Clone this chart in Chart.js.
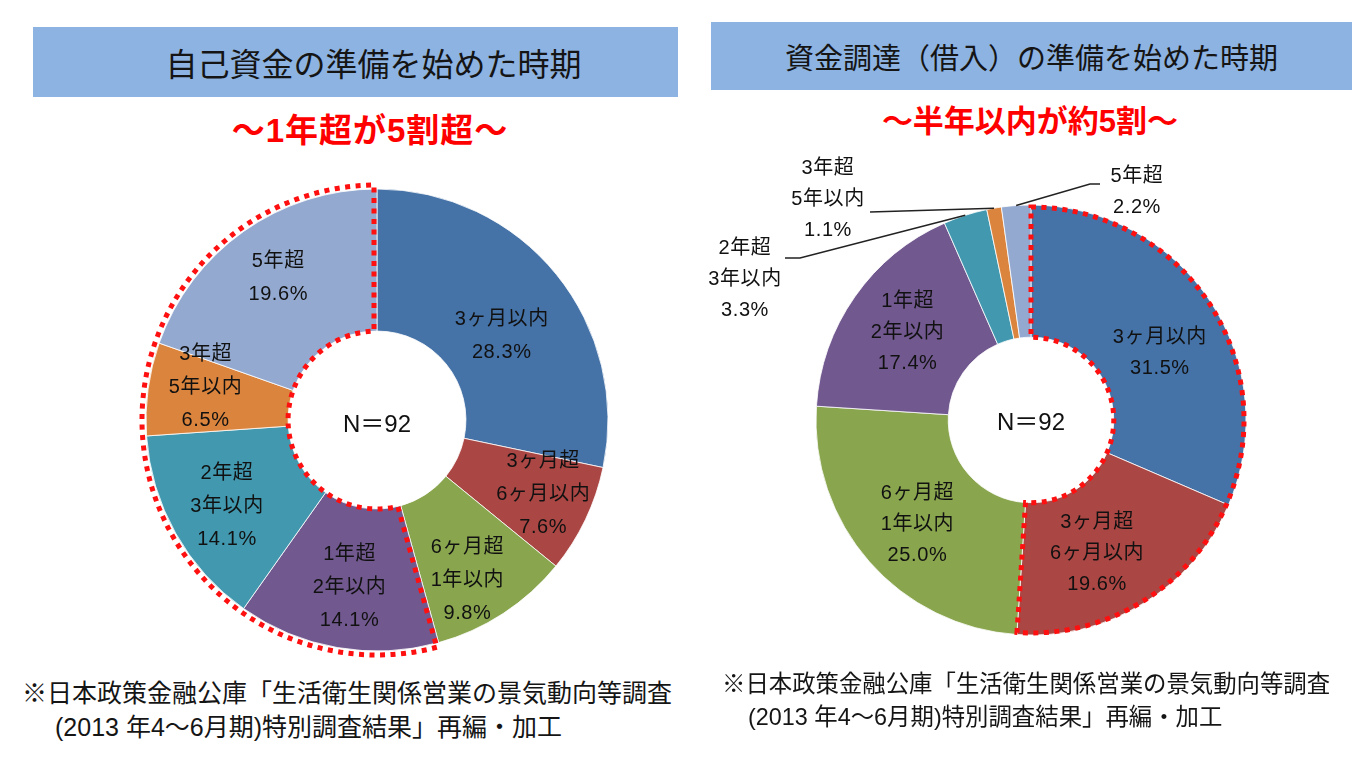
<!DOCTYPE html>
<html><head><meta charset="utf-8">
<script src="https://cdn.jsdelivr.net/npm/chart.js@4/dist/chart.umd.min.js"></script>
<style>
body{margin:0;width:1366px;height:768px;background:#fff;position:relative;overflow:hidden;font-family:"Liberation Sans","Noto Sans CJK JP",sans-serif;}
.box{position:absolute;background:#8db3e2;display:flex;align-items:center;justify-content:center;color:#151515;white-space:nowrap;box-sizing:border-box;}
.sub{position:absolute;color:#ff0000;font-weight:bold;line-height:36px;transform:translateX(-50%);white-space:nowrap;}
.note{position:absolute;color:#151515;white-space:nowrap;}
.cw{position:absolute;}
</style></head><body>
<div class="box" style="left:33px;top:27px;width:645px;height:70px;font-size:32px;padding-left:36px;">自己資金の準備を始めた時期</div>
<div class="box" style="left:711px;top:22px;width:641px;height:68px;font-size:29px;">資金調達（借入）の準備を始めた時期</div>
<div class="sub" style="left:370px;top:113px;font-size:33px;letter-spacing:1px;">〜1年超が5割超〜</div>
<div class="sub" style="left:1030px;top:104px;font-size:31px;">〜半年以内が約5割〜</div>

<div class="cw" style="left:127px;top:170px;width:500px;height:500px;"><canvas id="c1"></canvas></div>
<div class="cw" style="left:696px;top:155px;width:670px;height:530px;"><canvas id="c2"></canvas></div>

<div class="note" style="left:22px;top:676px;font-size:25px;line-height:34px;">※日本政策金融公庫「生活衛生関係営業の景気動向等調査<br><span style="padding-left:33px">(2013 年4〜6月期)特別調査結果」再編・加工</span></div>
<div class="note" style="left:722px;top:668px;font-size:23.4px;line-height:33px;">※日本政策金融公庫「生活衛生関係営業の景気動向等調査<br><span style="padding-left:26px">(2013 年4〜6月期)特別調査結果」再編・加工</span></div>

<script>
// ---- data ----
const categories = ['3ヶ月以内', '3ヶ月超\n6ヶ月以内', '6ヶ月超\n1年以内', '1年超\n2年以内', '2年超\n3年以内', '3年超\n5年以内', '5年超'];
const ownFunds = [28.3, 7.6, 9.8, 14.1, 14.1, 6.5, 19.6];      // 自己資金
const borrowing = [31.5, 19.6, 25.0, 17.4, 3.3, 1.1, 2.2];     // 資金調達(借入)
const sampleLabel = 'N＝92';
const colors = ['#4572a7', '#aa4643', '#89a54e', '#71588f', '#4198af', '#db843d', '#93a9cf'];

const FONT = '"Liberation Sans", "Noto Sans CJK JP", sans-serif';

const outlinePlugin = {
  id: 'groupOutline',
  afterDatasetsDraw(chart, args, o) {
    const els = chart.getDatasetMeta(0).data;
    const a = els[o.from], b = els[o.to];
    const ctx = chart.ctx;
    const x = a.x, y = a.y;
    const ro = a.outerRadius + o.outerGap, ri = a.innerRadius + o.innerGap;
    const s = a.startAngle, e = b.endAngle, d = o.inset;
    ctx.save();
    ctx.beginPath();
    ctx.arc(x, y, ro, s + d / ro, e - d / ro);
    ctx.arc(x, y, ri, e - d / ri, s + d / ri, true);
    ctx.closePath();
    ctx.setLineDash([5, 5.5]);
    ctx.lineWidth = 5;
    ctx.strokeStyle = '#ff1010';
    ctx.stroke();
    ctx.restore();
  }
};

const labelPlugin = {
  id: 'sliceLabels',
  afterDatasetsDraw(chart, args, o) {
    const ctx = chart.ctx;
    const meta = chart.getDatasetMeta(0);
    const vals = chart.data.datasets[0].data;
    ctx.save();
    ctx.font = '20px ' + FONT;
    ctx.fillStyle = '#111';
    ctx.textAlign = 'center';
    ctx.textBaseline = 'middle';
    try { ctx.letterSpacing = '0.6px'; } catch (e) {}
    meta.data.forEach((el, i) => {
      const lines = chart.data.labels[i].split('\n').concat([vals[i].toFixed(1) + '%']);
      let cx, cy;
      const out = o.outside && o.outside[i];
      if (out) {
        cx = el.x + out.dx; cy = el.y + out.dy;
        const mid = (el.startAngle + el.endAngle) / 2;
        ctx.save();
        ctx.beginPath();
        ctx.moveTo(el.x + Math.cos(mid) * el.outerRadius, el.y + Math.sin(mid) * el.outerRadius);
        out.path.forEach(p => ctx.lineTo(el.x + p[0], el.y + p[1]));
        ctx.lineWidth = 1.5;
        ctx.strokeStyle = '#222';
        ctx.stroke();
        ctx.restore();
      } else {
        const mid = (el.startAngle + el.endAngle) / 2;
        const r = el.outerRadius * o.radiusFrac;
        const n = (o.nudge && o.nudge[i]) || [0, 0];
        cx = el.x + Math.cos(mid) * r + n[0]; cy = el.y + Math.sin(mid) * r + n[1];
      }
      const lh = o.lineHeight;
      const top = cy - (lines.length - 1) * lh / 2;
      lines.forEach((t, k) => ctx.fillText(t, cx, top + k * lh));
    });
    // centre text
    ctx.font = '24px ' + FONT;
    try { ctx.letterSpacing = '0px'; } catch (e) {}
    const el0 = meta.data[0];
    ctx.fillText(sampleLabel, el0.x, el0.y + o.centerDy);
    ctx.restore();
  }
};

function makeChart(id, values, radius, outline, labelOpts) {
  return new Chart(document.getElementById(id), {
    type: 'doughnut',
    data: {
      labels: categories,
      datasets: [{ data: values, backgroundColor: colors, borderColor: 'rgba(255,255,255,0.8)', borderWidth: 1, hoverOffset: 0 }]
    },
    options: {
      responsive: true,
      maintainAspectRatio: false,
      animation: false,
      radius: radius,
      cutout: '38.5%',
      layout: { padding: 0 },
      plugins: {
        legend: { display: false },
        tooltip: { enabled: false },
        groupOutline: outline,
        sliceLabels: labelOpts
      }
    },
    plugins: [outlinePlugin, labelPlugin]
  });
}

makeChart('c1', ownFunds, 231,
  { from: 3, to: 6, outerGap: 4, innerGap: 0, inset: 3 },
  { radiusFrac: 0.74, lineHeight: 33, centerDy: 5,
    nudge: [[-8, 24], [12, 1], [-3, 17], [2, -1], [-1, 3], [-2, -9], [0, -2]] });

makeChart('c2', borrowing, 215,
  { from: 0, to: 1, outerGap: -2, innerGap: 0, inset: 0 },
  { radiusFrac: 0.74, lineHeight: 31, centerDy: 3,
    nudge: [[-4, 20], [-17, -2], [6, 0], [7, 4]],
    outside: {
      4: { dx: -286, dy: -141, path: [[-231, -162], [-246, -162]] },
      5: { dx: -203, dy: -221, path: [[-161, -208]] },
      6: { dx: 106, dy: -228, path: [[59, -236], [69, -236]] }
    } });
</script>
</body></html>
